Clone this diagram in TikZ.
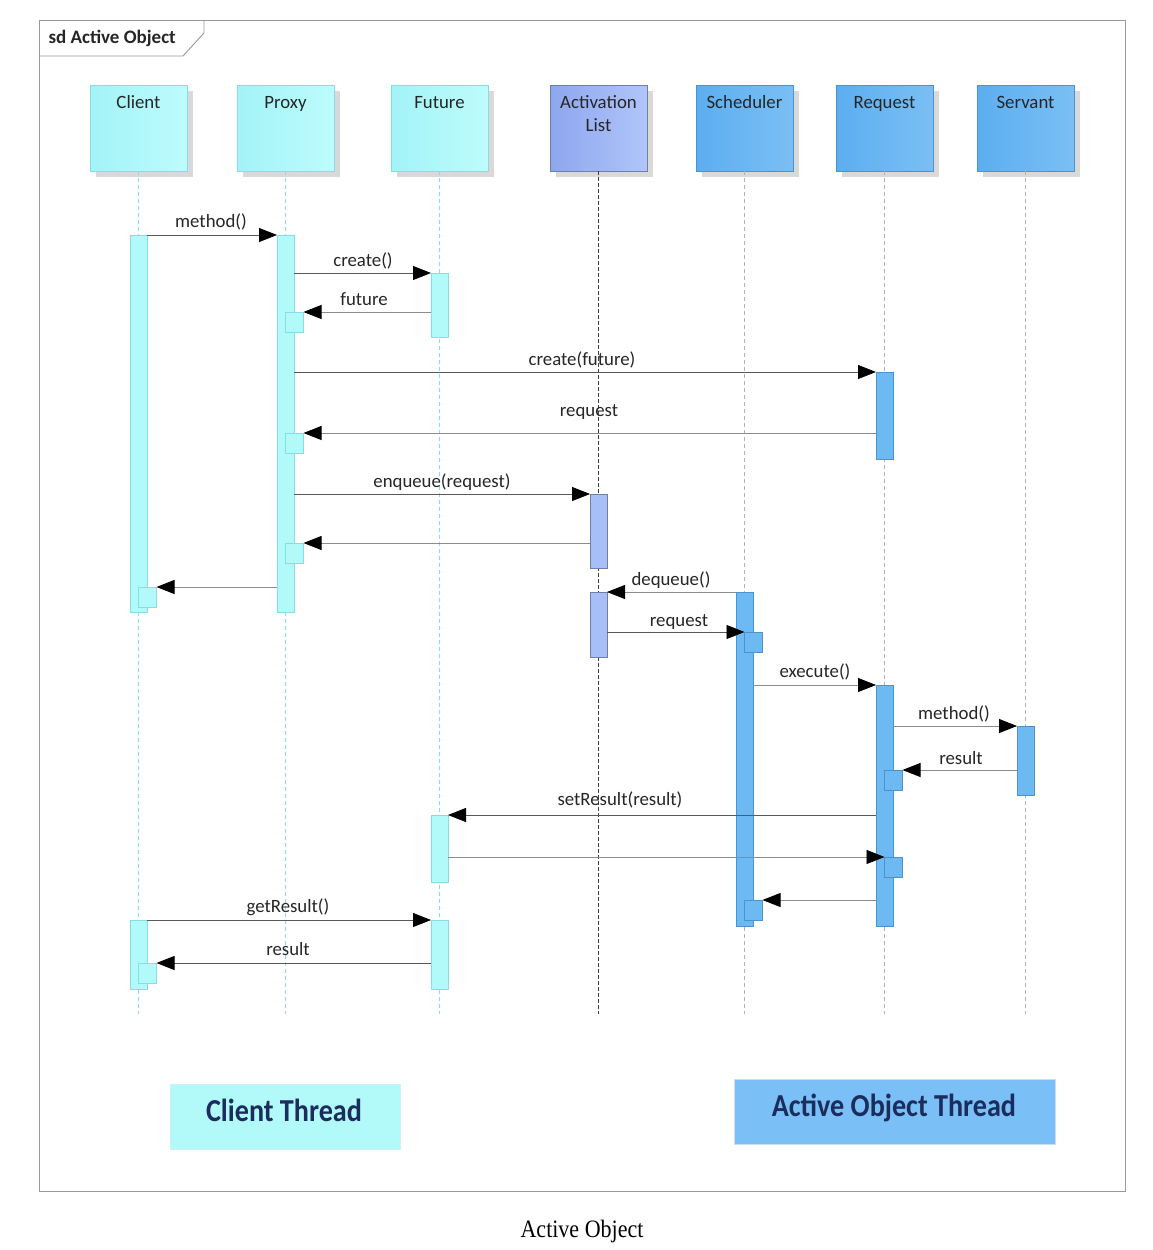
\documentclass[tikz,border=0pt]{standalone}
\usepackage{fontspec}
\setmainfont{Carlito}
\newfontfamily\capfont{Liberation Serif}
\usetikzlibrary{arrows.meta,shadows}
\definecolor{cyL}{HTML}{A2F3F7}
\definecolor{cyR}{HTML}{BDFCFD}
\definecolor{cyB}{HTML}{86DDE6}
\definecolor{cyBar}{HTML}{B2F9FA}
\definecolor{alL}{HTML}{8EA6EF}
\definecolor{alR}{HTML}{B0C5FA}
\definecolor{alB}{HTML}{6F7FA8}
\definecolor{alBar}{HTML}{A8BEF6}
\definecolor{blL}{HTML}{5CAEF0}
\definecolor{blR}{HTML}{7ABFF5}
\definecolor{blB}{HTML}{4C92D0}
\definecolor{blBar}{HTML}{6DB9F3}
\definecolor{txt}{HTML}{262626}
\definecolor{navy}{HTML}{1B2D5C}
\tikzset{
  every node/.style={font=\fontsize{18.8}{22}\selectfont, text=txt},
  frame/.style={draw=black!40, line width=0.9pt},
  hd/.style={anchor=north west, minimum width=97pt, minimum height=86pt, inner sep=0pt, outer sep=0pt,
    drop shadow={shadow xshift=6pt, shadow yshift=-6pt, fill=black!15, opacity=1}},
  hdc/.style={hd, left color=cyL, right color=cyR, draw=cyB},
  hda/.style={hd, left color=alL, right color=alR, draw=alB},
  hdb/.style={hd, left color=blL, right color=blR, draw=blB},
  hdtext/.style={anchor=base},
  bar/.style={anchor=north west, minimum width=17pt, inner sep=0pt, outer sep=0pt, line width=0.7pt},
  barc/.style={bar, fill=cyBar, draw=cyB},
  bara/.style={bar, fill=alBar, draw=alB},
  barb/.style={bar, fill=blBar, draw=blB},
  sq/.style={anchor=north west, minimum width=18pt, minimum height=20pt, inner sep=0pt, outer sep=0pt, line width=0.7pt},
  sqc/.style={sq, fill=cyBar, draw=cyB},
  sqb/.style={sq, fill=blBar, draw=blB},
  lfc/.style={draw=cyB, dash pattern=on 4pt off 3pt, line width=0.7pt},
  lfa/.style={draw=black!75, dash pattern=on 4pt off 2pt, line width=0.7pt},
  lfb/.style={draw=black!30, dash pattern=on 4pt off 3pt, line width=0.7pt},
  msg/.style={draw=black!65, line width=0.8pt, -{Triangle[length=18pt,width=14pt,color=black]}},
  ret/.style={msg, draw=black!45},
  lbl/.style={anchor=center},
  thr/.style={anchor=north west, inner sep=0pt, outer sep=0pt},
  thrtext/.style={anchor=base, text=navy, font=\bfseries\fontsize{32}{36}\selectfont}
}
\begin{document}
\begin{tikzpicture}[x=1pt,y=-1pt]
\useasboundingbox (0,0) rectangle (1152,1250);
\fill[white] (0,0) rectangle (1152,1250);
% frame
\draw[frame] (39,20) rectangle (1125,1191);
\draw[frame] (39,56) -- (183,56) -- (204,33) -- (204,20);
\node[anchor=west, font=\bfseries\fontsize{19}{21}\selectfont, text=black!85] (sd) at (45,38) {sd Active Object};
% heads
\node[hdc] (client) at (90,85) {};
\node[hdc] (proxy) at (237,85) {};
\node[hdc] (future) at (391,85) {};
\node[hda] (actlist) at (550,85) {};
\node[hdb] (sched) at (696,85) {};
\node[hdb] (req) at (836,85) {};
\node[hdb] (serv) at (977,85) {};
\node[hdtext] (tclient) at (138.5,108) {Client};
\node[hdtext] (tproxy) at (285.5,108) {Proxy};
\node[hdtext] (tfuture) at (439.5,108) {Future};
\node[hdtext] (tact1) at (598.5,108) {Activation};
\node[hdtext] (tact2) at (598.5,131) {List};
\node[hdtext] (tsched) at (744.5,108) {Scheduler};
\node[hdtext] (treq) at (884.5,108) {Request};
\node[hdtext] (tserv) at (1025.5,108) {Servant};
% lifelines
\draw[lfc] (client.south) -- ++(0,843);
\draw[lfc] (proxy.south) -- ++(0,843);
\draw[lfc] (future.south) -- ++(0,843);
\draw[lfa] (actlist.south) -- ++(0,843);
\draw[lfb] (sched.south) -- ++(0,843);
\draw[lfb] (req.south) -- ++(0,843);
\draw[lfb] (serv.south) -- ++(0,843);
% activation bars
\node[barc, minimum height=377pt] (cA1) at (130,235) {};
\node[barc, minimum height=69pt] (cA2) at (130,920) {};
\node[barc, minimum height=377pt] (pA1) at (277,235) {};
\node[barc, minimum height=64pt] (fA1) at (431,273) {};
\node[barc, minimum height=67pt] (fA2) at (431,815) {};
\node[barc, minimum height=69pt] (fA3) at (431,920) {};
\node[bara, minimum height=74pt] (aA1) at (590,494) {};
\node[bara, minimum height=65pt] (aA2) at (590,592) {};
\node[barb, minimum height=334pt] (sA1) at (736,592) {};
\node[barb, minimum height=87pt] (rA1) at (876,372) {};
\node[barb, minimum height=241pt] (rA2) at (876,685) {};
\node[barb, minimum height=69pt] (vA1) at (1017,726) {};
% self squares
\node[sqc] (pS1) at (285.5,312) {};
\node[sqc] (pS2) at (285.5,433) {};
\node[sqc] (pS3) at (285.5,543) {};
\node[sqc] (cS1) at (138.5,587) {};
\node[sqc] (cS2) at (138.5,963) {};
\node[sqb] (sS1) at (744.5,632) {};
\node[sqb] (sS2) at (744.5,900) {};
\node[sqb] (rS1) at (884.5,770) {};
\node[sqb] (rS2) at (884.5,857) {};
% messages
\draw[msg] (cA1.north east) -- (pA1.north west);
\draw[msg] (pA1.east |- fA1.north) -- (fA1.north west);
\draw[ret] (fA1.west |- pS1.north) -- (pS1.north east);
\draw[msg] (pA1.east |- rA1.north) -- (rA1.north west);
\draw[ret] (rA1.west |- pS2.north) -- (pS2.north east);
\draw[msg] (pA1.east |- aA1.north) -- (aA1.north west);
\draw[ret] (aA1.west |- pS3.north) -- (pS3.north east);
\draw[ret] (pA1.west |- cS1.north) -- (cS1.north east);
\draw[ret] (sA1.north west) -- (aA2.north east);
\draw[msg] (aA2.east |- sS1.north) -- (sS1.north west);
\draw[ret] (sA1.east |- rA2.north) -- (rA2.north west);
\draw[ret] (rA2.east |- vA1.north) -- (vA1.north west);
\draw[ret] (vA1.west |- rS1.north) -- (rS1.north east);
\draw[msg] (rA2.west |- fA2.north) -- (fA2.north east);
\draw[ret] (fA2.east |- rS2.north) -- (rS2.north west);
\draw[ret] (rA2.west |- sS2.north) -- (sS2.north east);
\draw[msg] (cA2.north east) -- (fA3.north west);
\draw[msg] (fA3.west |- cS2.north) -- (cS2.north east);
% message labels
\node[lbl] (m1) at (211,222) {method()};
\node[lbl] (m2) at (363,261) {create()};
\node[lbl] (m3) at (364,299) {future};
\node[lbl] (m4) at (582,360) {create(future)};
\node[lbl] (m5) at (589,412) {request};
\node[lbl] (m6) at (442,482) {enqueue(request)};
\node[lbl] (m7) at (671,580) {dequeue()};
\node[lbl] (m8) at (679,622) {request};
\node[lbl] (m9) at (815,672) {execute()};
\node[lbl] (m10) at (954,714) {method()};
\node[lbl] (m11) at (961,758) {result};
\node[lbl] (m12) at (620,800) {setResult(result)};
\node[lbl] (m13) at (288,907) {getResult()};
\node[lbl] (m14) at (288,949) {result};
% thread boxes
\node[thr, fill=cyBar, draw=cyB!40, minimum width=230pt, minimum height=65pt] (ct) at (170,1084) {};
\node[thr, fill=blR, draw=blB!30, minimum width=321pt, minimum height=65pt] (aot) at (734,1079) {};
\node[thrtext] (ctt) at (284,1121) {\scalebox{0.88}[1]{Client Thread}};
\node[thrtext] (aott) at (894,1116) {\scalebox{0.88}[1]{Active Object Thread}};
% caption
\node[anchor=base, text=black, font=\capfont\fontsize{25}{27}\selectfont] (cap) at (582,1237) {\scalebox{0.88}[1]{Active Object}};
\end{tikzpicture}
\end{document}
